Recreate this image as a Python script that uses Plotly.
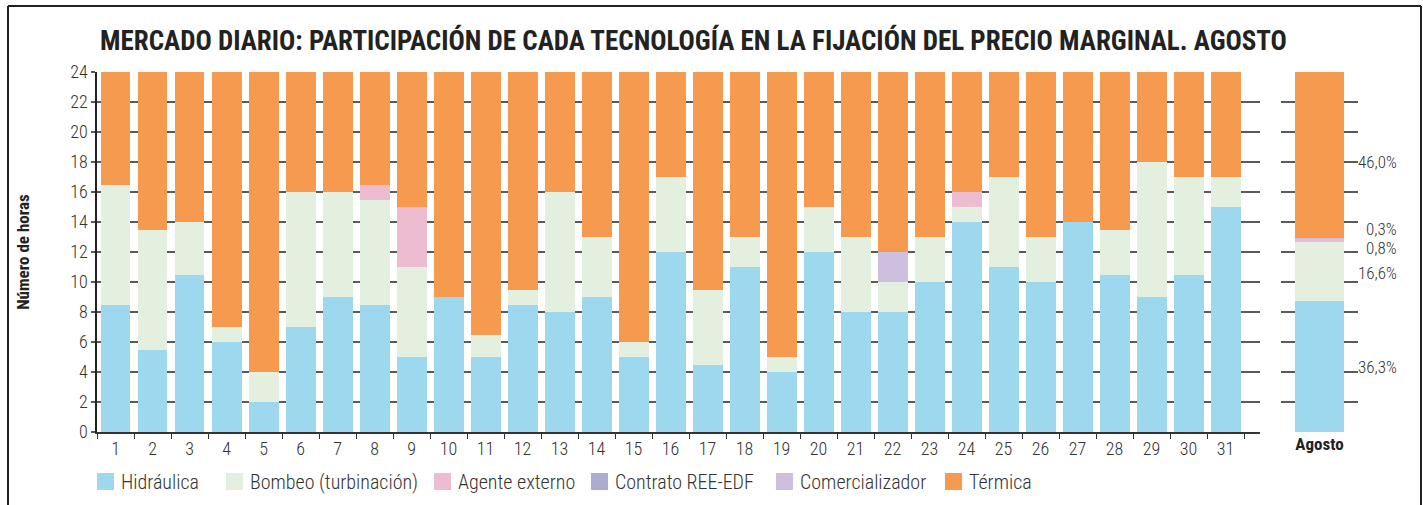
import plotly.graph_objects as go

W, H = 1423, 505

DAYS = [str(d) for d in range(1, 32)]
HIDRAULICA = [8.5, 5.5, 10.5, 6, 2, 7, 9, 8.5, 5, 9, 5, 8.5, 8, 9, 5, 12, 4.5, 11, 4, 12, 8, 8, 10, 14, 11, 10, 14, 10.5, 9, 10.5, 15]
BOMBEO = [8, 8, 3.5, 1, 2, 9, 7, 7, 6, 0, 1.5, 1, 8, 4, 1, 5, 5, 2, 1, 3, 5, 2, 3, 1, 6, 3, 0, 3, 9, 6.5, 2]
AGENTE = [0, 0, 0, 0, 0, 0, 0, 1, 4, 0, 0, 0, 0, 0, 0, 0, 0, 0, 0, 0, 0, 0, 0, 1, 0, 0, 0, 0, 0, 0, 0]
CONTRATO = [0] * 31
COMERC = [0, 0, 0, 0, 0, 0, 0, 0, 0, 0, 0, 0, 0, 0, 0, 0, 0, 0, 0, 0, 0, 2, 0, 0, 0, 0, 0, 0, 0, 0, 0]
TERMICA = [7.5, 10.5, 10, 17, 20, 8, 8, 7.5, 9, 15, 17.5, 14.5, 8, 11, 18, 7, 14.5, 11, 19, 9, 11, 12, 11, 8, 7, 11, 10, 10.5, 6, 7, 7]

SERIES = ["Hidráulica", "Bombeo (turbinación)", "Agente externo", "Contrato REE-EDF", "Comercializador", "Térmica"]
COLORS = ["#9ED8EE", "#E4F0DF", "#EEBCD0", "#AAACD0", "#CDBFDD", "#F69A50"]
DAILY = [HIDRAULICA, BOMBEO, AGENTE, CONTRATO, COMERC, TERMICA]

AGOSTO_LABEL = ["Agosto"]
AGOSTO_PCT = [36.3, 16.6, 0.8, 0.0, 0.3, 46.0]
AGOSTO_TXT = ["36,3%", "16,6%", "0,8%", "", "0,3%", "46,0%"]
TOTAL_HOURS = 24
Y_TICKS = list(range(0, 25, 2))

TITLE = "MERCADO DIARIO: PARTICIPACIÓN DE CADA TECNOLOGÍA EN LA FIJACIÓN DEL PRECIO MARGINAL. AGOSTO"

FONT = "Roboto Condensed, Roboto, sans-serif"
TXT = "#333333"
GRID = "#5a5a5a"


def px(x):
    return x / W


def py(y):
    return 1 - y / H


fig = go.Figure()

for name, vals, col in zip(SERIES, DAILY, COLORS):
    fig.add_trace(go.Bar(x=DAYS, y=vals, name=name, marker=dict(color=col, line=dict(width=0)),
                         xaxis="x", yaxis="y", showlegend=False))

agosto_vals = [p * TOTAL_HOURS / 100 for p in AGOSTO_PCT]
for name, v, col in zip(SERIES, agosto_vals, COLORS):
    fig.add_trace(go.Bar(x=AGOSTO_LABEL, y=[v], name=name, marker=dict(color=col, line=dict(width=0)),
                         xaxis="x2", yaxis="y2", showlegend=False, width=0.636))

y0, y1 = py(432), py(72)
light = dict(family=FONT, color=TXT, size=18, weight=300)

fig.update_layout(
    width=W, height=H,
    margin=dict(l=0, r=0, t=0, b=0),
    paper_bgcolor="white", plot_bgcolor="white",
    barmode="stack", bargap=0.19,
    font=dict(family=FONT, color=TXT, size=18),
    xaxis=dict(domain=[px(97), px(1260)], type="category", range=[-0.5, 30.93],
               showgrid=False, showline=True, linecolor="#333", linewidth=1.5,
               ticks="outside", tickson="boundaries", ticklen=5, tickcolor="#333", tickwidth=1.2,
               tickfont=light, automargin=False),
    yaxis=dict(domain=[y0, y1], range=[0, 24], tickvals=Y_TICKS,
               showgrid=True, gridcolor=GRID, gridwidth=1.5, zeroline=False,
               showline=True, linecolor="#222", linewidth=1.5,
               ticks="outside", ticklen=4, tickcolor=GRID, tickwidth=1.5,
               tickfont=light, automargin=False,
               title=dict(text="<b>Número de horas</b>", font=dict(size=17, color="#222"), standoff=36)),
    xaxis2=dict(domain=[px(1281), px(1358)], type="category", range=[-0.5, 0.5], anchor="y2",
                showgrid=False, showline=False, ticks="", automargin=False,
                tickfont=dict(size=17, color="#222"),
                tickvals=AGOSTO_LABEL, ticktext=["<b>" + a + "</b>" for a in AGOSTO_LABEL]),
    yaxis2=dict(domain=[y0, y1], range=[0, 24], tickvals=Y_TICKS, anchor="x2",
                showgrid=True, gridcolor=GRID, gridwidth=1.5, zeroline=False,
                showline=False, showticklabels=False, ticks="", automargin=False),
)

annotations = []
shapes = []

# Title
annotations.append(dict(text="<b>" + TITLE + "</b>", x=px(693), y=py(41), xref="paper", yref="paper",
                        xanchor="center", yanchor="middle", showarrow=False,
                        font=dict(size=27, color="#222", family=FONT)))

# Percentage labels for Agosto, placed beside the segment midpoints
shifts = [0, -2, -8, 0, 9, -7]
cum = 0
for v, t, s in zip(agosto_vals, AGOSTO_TXT, shifts):
    mid = cum + v / 2
    cum += v
    if not t:
        continue
    annotations.append(dict(text=t, x=px(1399), y=mid, xref="paper", yref="y2",
                            xanchor="right", yanchor="middle", yshift=s, showarrow=False,
                            font=dict(light, size=17)))

# Manual legend
legend_x = [97, 226, 434, 591, 776, 945]
for lx, name, col in zip(legend_x, SERIES, COLORS):
    shapes.append(dict(type="rect", xref="paper", yref="paper", x0=px(lx), x1=px(lx + 17),
                       y0=py(490), y1=py(473), fillcolor=col, line=dict(width=0)))
    annotations.append(dict(text=name, x=px(lx + 22), y=py(482), xref="paper", yref="paper",
                            xanchor="left", yanchor="middle", showarrow=False,
                            font=dict(light, size=20)))

# Outer frame
frame = dict(type="line", xref="paper", yref="paper", line=dict(color="#222", width=2))
shapes.append(dict(frame, x0=px(8), x1=px(1421), y0=py(6), y1=py(6)))
shapes.append(dict(frame, x0=px(8), x1=px(8), y0=py(6), y1=0))
shapes.append(dict(frame, x0=px(1421), x1=px(1421), y0=py(6), y1=0))

fig.update_layout(annotations=annotations, shapes=shapes)

fig.write_html("out.html", config={"displayModeBar": False},
               post_script="document.body.style.margin='0';document.body.style.overflow='hidden';")
